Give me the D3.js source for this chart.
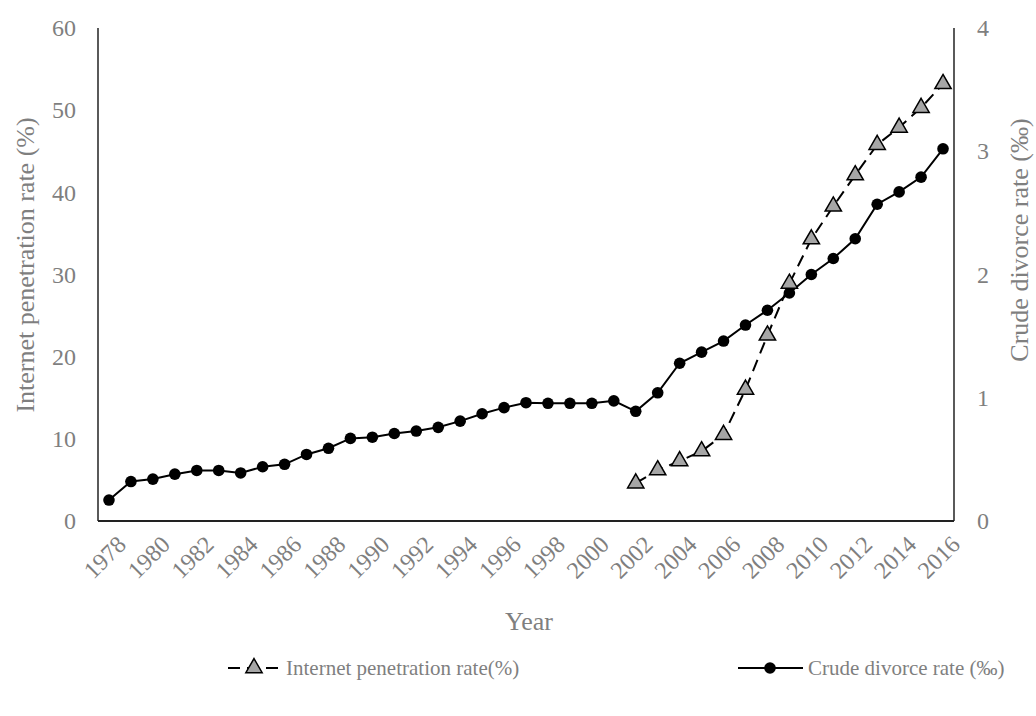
<!DOCTYPE html>
<html>
<head>
<meta charset="utf-8">
<script src="https://cdn.jsdelivr.net/npm/d3@7"></script>
<style>
  html, body { margin: 0; padding: 0; background: #fff; }
  svg text { font-family: "Liberation Serif", "Times New Roman", serif; }
</style>
</head>
<body>
<svg id="chart" width="1036" height="716"></svg>
<script>
// Years 1978–2016
const years = d3.range(1978, 2017).map(String);
const tickYears = years.filter((d, i) => i % 2 === 0);

// Crude divorce rate (‰), 1978–2016
const divorceRate = [0.17, 0.32, 0.34, 0.38, 0.41, 0.41, 0.39, 0.44, 0.46, 0.54,
  0.59, 0.67, 0.68, 0.71, 0.73, 0.76, 0.81, 0.87, 0.92, 0.96,
  0.955, 0.955, 0.955, 0.975, 0.89, 1.04, 1.28, 1.37, 1.46, 1.59,
  1.71, 1.85, 2.00, 2.13, 2.29, 2.57, 2.67, 2.79, 3.02];

// Internet penetration rate (%), 2002–2016
const internetYears = d3.range(2002, 2017).map(String);
const internetRate = [4.6, 6.2, 7.3, 8.5, 10.5, 16.0, 22.6, 28.9, 34.3, 38.3,
  42.1, 45.8, 47.9, 50.3, 53.2];

const leftTicks = [0, 10, 20, 30, 40, 50, 60];
const rightTicks = [0, 1, 2, 3, 4];

const svg = d3.select("#chart");
const m = { left: 98, right: 954, top: 28, bottom: 521 };
const textGray = "#7f7f7f";
const tickFs = 24, titleFs = 26, legendFs = 21;

const x = d3.scalePoint().domain(years).range([m.left, m.right]).padding(0.5);
const yL = d3.scaleLinear().domain([0, 60]).range([m.bottom, m.top]);
const yR = d3.scaleLinear().domain([0, 4]).range([m.bottom, m.top]);

// Axes
const gL = svg.append("g").attr("transform", `translate(${m.left},0)`)
  .call(d3.axisLeft(yL).tickValues(leftTicks).tickSize(0).tickPadding(22));
const gR = svg.append("g").attr("transform", `translate(${m.right},0)`)
  .call(d3.axisRight(yR).tickValues(rightTicks).tickFormat(d3.format("d"))
    .tickSize(0).tickPadding(23));
const gB = svg.append("g").attr("transform", `translate(0,${m.bottom})`)
  .call(d3.axisBottom(x).tickValues(tickYears).tickSize(0).tickPadding(10));

[gL, gR].forEach(g => {
  g.select(".domain").attr("stroke", "#000").attr("stroke-width", 1.3)
    .attr("d", `M0,${m.bottom}V${m.top}`);
  g.selectAll("text").attr("font-size", tickFs).attr("fill", textGray);
});
gB.select(".domain").attr("stroke", "#222").attr("stroke-width", 2)
  .attr("d", `M${m.left},0H${m.right}`);
gB.selectAll("text")
  .attr("font-size", tickFs).attr("fill", textGray)
  .attr("text-anchor", "end")
  .attr("dy", "0.35em")
  .attr("transform", "translate(5,12) rotate(-45)");

// Axis titles
svg.append("text")
  .attr("transform", `translate(34,265) rotate(-90)`)
  .attr("text-anchor", "middle").attr("font-size", titleFs).attr("fill", textGray)
  .text("Internet penetration rate (%)");
svg.append("text")
  .attr("transform", `translate(1028,240) rotate(-90)`)
  .attr("text-anchor", "middle").attr("font-size", titleFs).attr("fill", textGray)
  .text("Crude divorce rate (‰)");
svg.append("text")
  .attr("x", 529).attr("y", 630)
  .attr("text-anchor", "middle").attr("font-size", titleFs).attr("fill", textGray)
  .text("Year");

// Divorce rate line + dots
const divData = years.map((y, i) => ({ year: y, v: divorceRate[i] }));
svg.append("path").datum(divData)
  .attr("fill", "none").attr("stroke", "#000").attr("stroke-width", 2)
  .attr("d", d3.line().x(d => x(d.year)).y(d => yR(d.v)));
svg.append("g").selectAll("circle").data(divData).join("circle")
  .attr("cx", d => x(d.year)).attr("cy", d => yR(d.v)).attr("r", 5.8)
  .attr("fill", "#000");

// Internet penetration dashed line + triangles
const netData = internetYears.map((y, i) => ({ year: y, v: internetRate[i] }));
svg.append("path").datum(netData)
  .attr("fill", "none").attr("stroke", "#000").attr("stroke-width", 2)
  .attr("stroke-dasharray", "12,7")
  .attr("d", d3.line().x(d => x(d.year)).y(d => yL(d.v)));
const tri = d3.symbol().type(d3.symbolTriangle).size(115);
svg.append("g").selectAll("path").data(netData).join("path")
  .attr("d", tri)
  .attr("transform", d => `translate(${x(d.year)},${yL(d.v)})`)
  .attr("fill", "#a6a6a6").attr("stroke", "#000").attr("stroke-width", 1.5);

// Legend
const ly = 668;
const leg = svg.append("g");
leg.append("line").attr("x1", 228).attr("x2", 281).attr("y1", ly).attr("y2", ly)
  .attr("stroke", "#000").attr("stroke-width", 2).attr("stroke-dasharray", "12,7");
leg.append("path").attr("d", tri).attr("transform", `translate(254,${ly})`)
  .attr("fill", "#a6a6a6").attr("stroke", "#000").attr("stroke-width", 1.5);
leg.append("text").attr("x", 286).attr("y", ly + 7).attr("font-size", legendFs)
  .attr("fill", textGray).text("Internet penetration rate(%)");
leg.append("line").attr("x1", 738).attr("x2", 803).attr("y1", ly).attr("y2", ly)
  .attr("stroke", "#000").attr("stroke-width", 2);
leg.append("circle").attr("cx", 770).attr("cy", ly).attr("r", 5.8).attr("fill", "#000");
leg.append("text").attr("x", 808).attr("y", ly + 7).attr("font-size", legendFs)
  .attr("fill", textGray).text("Crude divorce rate (‰)");
</script>
</body>
</html>
